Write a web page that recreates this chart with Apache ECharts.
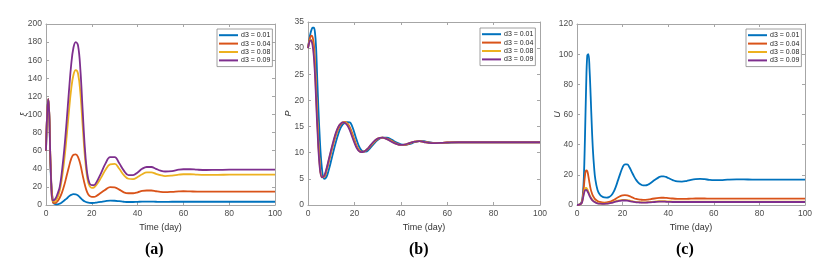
<!DOCTYPE html>
<html>
<head>
<meta charset="utf-8">
<script src="https://cdn.jsdelivr.net/npm/echarts@6/dist/echarts.min.js"></script>
<style>
html,body{margin:0;padding:0;background:#fff;}
#c{width:834px;height:265px;}
</style>
</head>
<body>
<div id="c"></div>
<script>
// ---------- data ----------
const seriesNames = ['d3 = 0.01', 'd3 = 0.04', 'd3 = 0.08', 'd3 = 0.09'];
const colors = ['#0072BD', '#D95319', '#EDB120', '#7E2F8E'];
const panelLabels = ['(a)', '(b)', '(c)'];
const yNames = ['ξ', 'P', 'U'];
const xName = 'Time (day)';

// panel (a): xi
const tA = [0,0.5,1,1.5,2,3,4,5,6,7,8,9,10,11,12,13,14,15,16,17,18,19,20,21,22,24,26,28,30,32,34,36,38,40,42,44,46,48,50,52,55,58,60,63,66,70,75,80,90,100];
const xiD1 = [60,100,117,95,40,4,1,0.8,1.5,3,5,7,9.5,11.2,12,11.8,10.5,8,5.5,3.8,2.8,2.3,2.2,2.3,2.7,3.5,4.3,4.8,4.7,4.2,3.6,3.3,3.3,3.5,3.7,3.8,3.7,3.6,3.5,3.5,3.6,3.6,3.6,3.6,3.6,3.6,3.6,3.6,3.6,3.6];
const xiD4 = [60,100,117,95,45,3,2,4,8,14,22,32,42,51,55.5,56,53,45,33,22,14,10,9,9,10,13.5,17,19.8,19.5,17,14,13,13,14,15.5,16,16,15.2,14.5,14.2,14.5,15,15.2,15,14.8,14.7,14.8,14.8,14.8,14.8];
const xiD8 = [60,100,117,95,45,4,4,8,16,30,50,75,103,128,144,149,145,124,88,53,30,21,19,19.5,22,30,39,45,45.5,40,33,29,28.5,31,34,36,36,34.5,33,32,32.5,33.5,34,34,33.5,33.3,33.3,33.5,33.5,33.5];
const xiD9 = [60,100,117,95,45,5,6.5,12,20,38,62,92,125,155,174,180,176,150,105,62,35,24,22,22,25,35,46,53,53,46,38,33,33,36,40,42,42,40,38,37,37.5,39,39.5,39.5,39,38.7,38.8,39,39,39];

// panel (b): P
const tB = [0,0.5,1,1.5,2,2.5,3,3.5,4,5,6,7,8,9,10,11,12,13,14,15,16,17,18,19,20,21,22,23,24,25,26,28,30,32,34,36,38,40,42,44,46,48,50,52,55,58,60,65,70,80,90,100];
const pD1 = [30,31.5,32.7,33.5,33.9,33.9,33,30,24,13.5,7,5,5.4,6.8,8.5,10.3,12,13.5,14.7,15.4,15.75,15.85,15.8,15.1,13.8,12.4,11.2,10.5,10.2,10.2,10.5,11.5,12.4,12.9,12.9,12.5,12,11.6,11.5,11.7,12,12.2,12.2,12,11.85,11.85,11.9,12,12,12,12,12];
const pD4 = [30,31.3,32.1,32.4,32.1,30.8,27.5,22.5,17,8.5,5.4,5.4,6.6,8.3,10.1,11.8,13.3,14.5,15.3,15.8,15.9,15.6,14.9,13.8,12.5,11.3,10.5,10.2,10.2,10.4,10.8,11.8,12.6,12.9,12.7,12.3,11.8,11.5,11.5,11.8,12.1,12.2,12.1,11.95,11.85,11.9,11.95,12,12,12,12,12];
const pD8 = [30,31.1,31.6,31.6,30.9,29.2,26,21,16,8,5.3,5.5,6.9,8.6,10.4,12.1,13.6,14.8,15.5,15.8,15.8,15.4,14.5,13.4,12.1,11.1,10.4,10.1,10.2,10.5,10.9,11.9,12.7,12.9,12.6,12.2,11.7,11.5,11.6,11.9,12.1,12.2,12.05,11.9,11.85,11.9,11.95,12,12,12,12,12];
const pD9 = [30,31,31.5,31.4,30.5,28.5,25,20,15,7.5,5.3,5.6,7,8.8,10.6,12.3,13.8,14.9,15.5,15.8,15.7,15.2,14.3,13.1,11.9,10.9,10.3,10.1,10.2,10.5,10.9,12,12.7,12.9,12.6,12.1,11.7,11.5,11.6,11.9,12.1,12.2,12.05,11.9,11.85,11.9,11.95,12,12,12,12,12];

// panel (c): U
const tC = [0,1,2,2.5,3,3.5,4,4.5,5,5.5,6,6.5,7,7.5,8,9,10,11,12,13,14,15,16,17,18,19,20,21,22,23,24,25,26,27,28,29,30,31,32,34,36,37,38,39,40,42,44,46,48,50,52,54,56,58,60,63,66,70,75,80,90,100];
const uD1 = [0,0.3,2,6,18,45,78,99,100,90,72,52,36,25,17.5,10,7,5.6,5,4.9,5.2,6.3,8.5,12,16.5,21,25,27,27,25,22,19,16.5,14.7,13.6,13,13,13.4,14.3,16.5,18.5,19,19,18.6,17.9,16.5,15.6,15.5,15.9,16.6,17.1,17.3,17.1,16.7,16.5,16.5,16.8,17,16.9,16.8,16.8,16.8];
const uD4 = [0,0.2,1.5,5,12,19.5,23,22.5,19,14.5,10.5,8,6,4.8,3.8,2.6,2,1.7,1.6,1.7,2,2.5,3.3,4.2,5.1,5.9,6.4,6.6,6.4,5.9,5.2,4.5,4,3.7,3.5,3.4,3.4,3.5,3.8,4.3,4.7,4.8,4.8,4.7,4.6,4.3,4.1,4,4.1,4.2,4.3,4.3,4.3,4.2,4.2,4.2,4.2,4.2,4.2,4.2,4.2,4.2];
const uD8 = [0,0.2,1.2,4,8,10.8,11.3,10.5,8.8,6.8,5.2,4,3,2.4,1.9,1.3,1,0.9,0.9,1,1.2,1.5,2,2.5,2.9,3.2,3.4,3.4,3.3,3,2.6,2.3,2.1,1.95,1.85,1.8,1.8,1.85,2,2.3,2.5,2.5,2.5,2.45,2.4,2.3,2.2,2.2,2.2,2.25,2.3,2.3,2.3,2.25,2.25,2.25,2.25,2.25,2.25,2.25,2.25,2.25];
const uD9 = [0,0.2,1.1,3.6,7.2,9.7,10,9.3,7.8,6,4.6,3.5,2.7,2.1,1.7,1.1,0.9,0.8,0.8,0.9,1.1,1.4,1.8,2.2,2.6,2.8,3,3,2.9,2.6,2.3,2,1.8,1.7,1.6,1.6,1.6,1.65,1.8,2,2.2,2.2,2.2,2.15,2.1,2,2,2,2,2,2,2,2,2,2,2,2,2,2,2,2,2];

const yMax = [200, 35, 120];
const yStep = [20, 5, 20];
const xMax = 100, xStep = 20;

// ---------- layout ----------
const grids = [
  {left: 46, top: 24, width: 229, height: 181},
  {left: 308, top: 22, width: 232, height: 183},
  {left: 577, top: 24, width: 228, height: 181}
];
const legendPos = [{left: 217, top: 29}, {left: 480, top: 28}, {left: 746, top: 29}];
const labelX = [155, 419, 686];
const yNameX = [24, 288, 557];

const panels = [
  {t: tA, ys: [xiD1, xiD4, xiD8, xiD9]},
  {t: tB, ys: [pD1, pD4, pD8, pD9]},
  {t: tC, ys: [uD1, uD4, uD8, uD9]}
];

const axisGray = '#a6a6a6';
const labelGray = '#4d4d4d';
const font = 'Liberation Sans, Arial, sans-serif';

const xAxes = [], yAxes = [], series = [], legends = [], graphics = [];
panels.forEach((p, i) => {
  const tickStyle = {show: true, inside: true, length: 3, lineStyle: {color: axisGray}};
  xAxes.push({
    type: 'value', gridIndex: i, min: 0, max: xMax, interval: xStep, position: 'bottom',
    axisLine: {show: true, onZero: false, lineStyle: {color: axisGray}},
    axisTick: tickStyle, splitLine: {show: false},
    axisLabel: {color: labelGray, fontSize: 8.5, fontFamily: font, margin: 4},
    name: xName, nameLocation: 'middle', nameGap: 15,
    nameTextStyle: {color: '#333', fontSize: 9, fontFamily: font}
  });
  xAxes.push({
    type: 'value', gridIndex: i, min: 0, max: xMax, interval: xStep, position: 'top',
    axisLine: {show: true, onZero: false, lineStyle: {color: axisGray}},
    axisTick: tickStyle, axisLabel: {show: false}, splitLine: {show: false}
  });
  yAxes.push({
    type: 'value', gridIndex: i, min: 0, max: yMax[i], interval: yStep[i], position: 'left',
    axisLine: {show: true, onZero: false, lineStyle: {color: axisGray}},
    axisTick: tickStyle, splitLine: {show: false},
    axisLabel: {color: labelGray, fontSize: 8.5, fontFamily: font, margin: 4}
  });
  yAxes.push({
    type: 'value', gridIndex: i, min: 0, max: yMax[i], interval: yStep[i], position: 'right',
    axisLine: {show: true, onZero: false, lineStyle: {color: axisGray}},
    axisTick: tickStyle, axisLabel: {show: false}, splitLine: {show: false}
  });
  p.ys.forEach((vals, k) => {
    series.push({
      type: 'line', name: seriesNames[k], xAxisIndex: i * 2, yAxisIndex: i * 2,
      data: p.t.map((t, j) => [t, vals[j]]),
      showSymbol: false, smooth: 0.4, animation: false, clip: true,
      lineStyle: {width: 1.8, color: colors[k]}, itemStyle: {color: colors[k]}
    });
  });
  legends.push({
    left: legendPos[i].left, top: legendPos[i].top, orient: 'vertical',
    data: seriesNames, itemWidth: 19, itemHeight: 2, itemGap: 0,
    icon: 'rect', backgroundColor: '#fff', borderColor: '#888', borderWidth: 0.8,
    padding: [2, 2, 2, 2],
    textStyle: {fontSize: 7, color: '#222', fontFamily: font, lineHeight: 8.4, padding: [0, 0, 0, -2]},
    selectedMode: false
  });
  graphics.push({
    type: 'text', left: labelX[i] - 10, top: 242,
    style: {text: panelLabels[i], fontSize: 16, fontWeight: 'bold', fontFamily: 'Liberation Serif, Times New Roman, serif', fill: '#000'}
  });
  graphics.push({
    type: 'text', x: yNameX[i], y: grids[i].top + grids[i].height / 2, rotation: Math.PI / 2,
    style: {text: yNames[i], fontSize: 9, fontStyle: 'italic', fontFamily: font, fill: '#333', align: 'center', verticalAlign: 'middle'}
  });
});

const chart = echarts.init(document.getElementById('c'), null, {renderer: 'canvas'});
chart.setOption({
  animation: false,
  backgroundColor: '#fff',
  grid: grids.map(g => Object.assign({containLabel: false}, g)),
  xAxis: xAxes, yAxis: yAxes, series: series, legend: legends, graphic: graphics
});
</script>
</body>
</html>
